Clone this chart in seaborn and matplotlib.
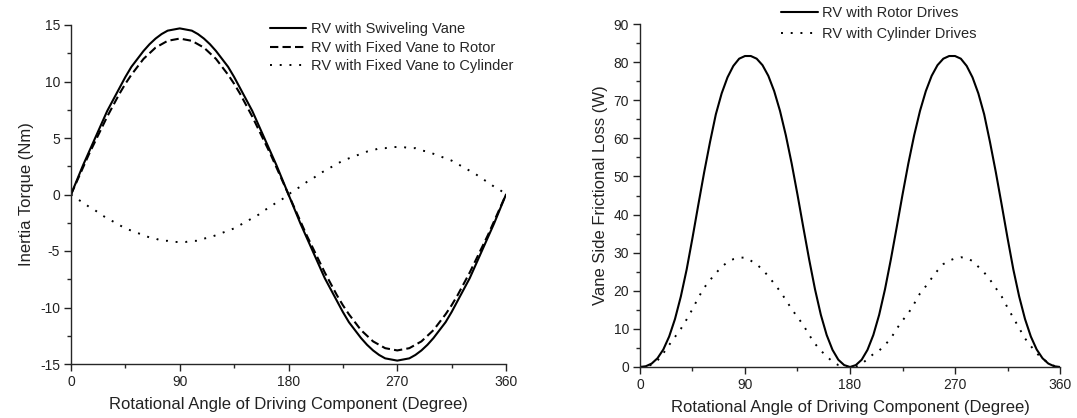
import numpy as np
import pandas as pd
import seaborn as sns
import matplotlib.pyplot as plt
from matplotlib.ticker import MultipleLocator

# angle axis, every 5 degrees
angle = list(range(0, 361, 5))

# left panel: inertia torque (Nm)
torque_swivel = [
    0, 1.3, 2.6, 3.8, 5.0, 6.2, 7.4, 8.4, 9.4, 10.4, 11.3, 12.0, 12.7, 13.3, 13.8, 14.2, 14.5, 14.6, 14.7,
    14.6, 14.5, 14.2, 13.8, 13.3, 12.7, 12.0, 11.3, 10.4, 9.4, 8.4, 7.4, 6.2, 5.0, 3.8, 2.6, 1.3, 0,
    -1.3, -2.6, -3.8, -5.0, -6.2, -7.4, -8.4, -9.4, -10.4, -11.3, -12.0, -12.7, -13.3, -13.8, -14.2, -14.5, -14.6, -14.7,
    -14.6, -14.5, -14.2, -13.8, -13.3, -12.7, -12.0, -11.3, -10.4, -9.4, -8.4, -7.4, -6.2, -5.0, -3.8, -2.6, -1.3, 0,
]
torque_rotor = [
    0, 1.2, 2.4, 3.6, 4.7, 5.8, 6.9, 7.9, 8.9, 9.8, 10.6, 11.3, 12.0, 12.5, 13.0, 13.3, 13.6, 13.7, 13.8,
    13.7, 13.6, 13.3, 13.0, 12.5, 12.0, 11.3, 10.6, 9.8, 8.9, 7.9, 6.9, 5.8, 4.7, 3.6, 2.4, 1.2, 0,
    -1.2, -2.4, -3.6, -4.7, -5.8, -6.9, -7.9, -8.9, -9.8, -10.6, -11.3, -12.0, -12.5, -13.0, -13.3, -13.6, -13.7, -13.8,
    -13.7, -13.6, -13.3, -13.0, -12.5, -12.0, -11.3, -10.6, -9.8, -8.9, -7.9, -6.9, -5.8, -4.7, -3.6, -2.4, -1.2, 0,
]
torque_cylinder = [
    0, -0.4, -0.7, -1.1, -1.4, -1.8, -2.1, -2.4, -2.7, -3.0, -3.2, -3.4, -3.6, -3.8, -3.9, -4.1, -4.1, -4.2, -4.2,
    -4.2, -4.1, -4.1, -3.9, -3.8, -3.6, -3.4, -3.2, -3.0, -2.7, -2.4, -2.1, -1.8, -1.4, -1.1, -0.7, -0.4, 0,
    0.4, 0.7, 1.1, 1.4, 1.8, 2.1, 2.4, 2.7, 3.0, 3.2, 3.4, 3.6, 3.8, 3.9, 4.1, 4.1, 4.2, 4.2,
    4.2, 4.1, 4.1, 3.9, 3.8, 3.6, 3.4, 3.2, 3.0, 2.7, 2.4, 2.1, 1.8, 1.4, 1.1, 0.7, 0.4, 0,
]

# right panel: vane side frictional loss (W)
loss_rotor = [
    0, 0.2, 0.9, 2.3, 4.6, 8.0, 12.6, 18.5, 25.6, 33.9, 42.6, 51.1, 59.0, 66.3, 71.8, 76.0, 79.0, 80.9, 81.6,
    81.6, 80.9, 79.2, 76.4, 72.4, 67.2, 60.8, 53.4, 45.2, 36.6, 28.2, 20.4, 13.7, 8.4, 4.5, 1.9, 0.5, 0,
    0.5, 1.9, 4.5, 8.4, 13.7, 20.4, 28.2, 36.6, 45.2, 53.4, 60.8, 67.2, 72.4, 76.4, 79.2, 80.9, 81.6, 81.6,
    80.9, 79.0, 76.0, 71.8, 66.3, 59.0, 51.1, 42.6, 33.9, 25.6, 18.5, 12.6, 8.0, 4.6, 2.3, 0.9, 0.2, 0,
]
loss_cylinder = [
    0, 0.1, 0.6, 1.7, 3.6, 5.8, 7.9, 10.0, 12.5, 15.2, 18.2, 20.8, 22.8, 24.6, 26.3, 27.5, 28.3, 28.7, 28.7,
    27.9, 26.9, 25.6, 23.8, 21.9, 19.9, 17.6, 15.2, 13.1, 11.0, 8.4, 6.1, 4.3, 2.8, 1.4, 0.5, 0.1, 0,
    0.1, 0.8, 2.1, 3.4, 4.3, 5.8, 7.5, 10.0, 12.2, 14.1, 16.6, 19.3, 21.2, 23.3, 25.3, 27.0, 27.9, 28.5,
    28.8, 28.6, 27.8, 26.3, 24.8, 22.9, 20.7, 18.5, 15.6, 12.9, 10.2, 7.5, 5.5, 3.6, 2.2, 1.1, 0.3, 0,
]

sns.set_theme(style="ticks")
plt.rcParams['font.family'] = ['Liberation Sans', 'DejaVu Sans']
plt.rcParams['axes.unicode_minus'] = False
plt.rcParams['axes.linewidth'] = 1.0
plt.rcParams['xtick.direction'] = 'out'
plt.rcParams['ytick.direction'] = 'out'

fig = plt.figure(figsize=(10.77, 4.18), dpi=100)
ax1 = fig.add_axes([71 / 1077, 54 / 418, 435 / 1077, 339 / 418])
ax2 = fig.add_axes([640 / 1077, 51 / 418, 420 / 1077, 343 / 418])

left_df = pd.DataFrame({'angle': angle, 'swivel': torque_swivel,
                        'rotor': torque_rotor, 'cylinder': torque_cylinder})
right_df = pd.DataFrame({'angle': angle, 'rotor': loss_rotor, 'cylinder': loss_cylinder})

dash = (0, (4, 2))
dot = (0, (1, 4))

sns.lineplot(data=left_df, x='angle', y='swivel', ax=ax1, color='black', lw=1.5,
             label='RV with Swiveling Vane')
sns.lineplot(data=left_df, x='angle', y='rotor', ax=ax1, color='black', lw=1.5,
             linestyle=dash, label='RV with Fixed Vane to Rotor')
sns.lineplot(data=left_df, x='angle', y='cylinder', ax=ax1, color='black', lw=1.4,
             linestyle=dot, label='RV with Fixed Vane to Cylinder')

sns.lineplot(data=right_df, x='angle', y='rotor', ax=ax2, color='black', lw=1.5,
             label='RV with Rotor Drives')
sns.lineplot(data=right_df, x='angle', y='cylinder', ax=ax2, color='black', lw=1.4,
             linestyle=dot, label='RV with Cylinder Drives')

xlab = 'Rotational Angle of Driving Component (Degree)'
for ax in (ax1, ax2):
    ax.set_xlim(0, 360)
    ax.set_xticks([0, 90, 180, 270, 360])
    ax.xaxis.set_minor_locator(MultipleLocator(45))
    ax.set_xlabel(xlab, fontsize=12, color='#222222', labelpad=6)
    ax.tick_params(which='major', length=5, width=1, labelsize=10, colors='#222222', pad=3)
    ax.tick_params(which='minor', length=3, width=1)
    sns.despine(ax=ax)

ax1.set_ylim(-15, 15)
ax1.set_yticks([-15, -10, -5, 0, 5, 10, 15])
ax1.yaxis.set_minor_locator(MultipleLocator(2.5))
ax1.set_ylabel('Inertia Torque (Nm)', fontsize=12, color='#222222', labelpad=4)

ax2.set_ylim(0, 90)
ax2.set_yticks(range(0, 91, 10))
ax2.yaxis.set_minor_locator(MultipleLocator(5))
ax2.set_ylabel('Vane Side Frictional Loss (W)', fontsize=12, color='#222222', labelpad=4)

ax1.legend(loc='upper right', bbox_to_anchor=(1.03, 1.025), frameon=False, fontsize=10.5,
           handlelength=2.5, handletextpad=0.3, labelspacing=0.3, borderaxespad=0)
ax2.legend(loc='upper left', bbox_to_anchor=(0.322, 1.07), frameon=False, fontsize=10.5,
           handlelength=2.5, handletextpad=0.3, labelspacing=0.5, borderaxespad=0)

fig.savefig('out.png', dpi=100, facecolor='white')
